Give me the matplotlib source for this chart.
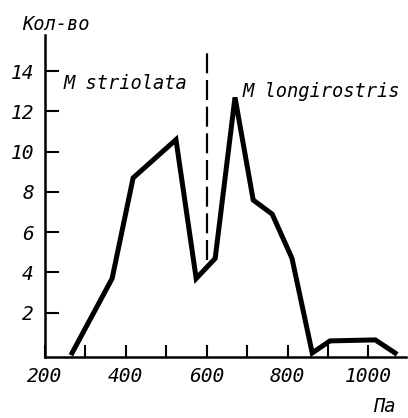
import matplotlib
matplotlib.use("Agg")
import matplotlib.pyplot as plt
from matplotlib.ticker import MultipleLocator

# Data
pa = [267, 366, 418, 524, 574, 621, 670, 715, 762, 811, 861, 905, 1017, 1066]
count = [0, 3.7, 8.7, 10.6, 3.7, 4.7, 12.7, 7.6, 6.9, 4.7, 0, 0.6, 0.65, 0]
divider_x = [600, 600]
divider_y = [4.6, 15.1]
x_ticks = [200, 400, 600, 800, 1000]
y_ticks = [2, 4, 6, 8, 10, 12, 14]

plt.rcParams['font.family'] = ['DejaVu Sans Mono', 'DejaVu Sans']
fig = plt.figure(figsize=(4.08, 4.18), dpi=100)
ax = fig.add_axes([45/408, (418-357)/418, (406-45)/408, (357-35)/418])

ax.plot(pa, count, color='black', lw=3.6, solid_joinstyle='miter', clip_on=False)
ax.plot(divider_x, divider_y, color='black', lw=1.6, dashes=(9, 3))

ax.set_xlim(200, 1093)
ax.set_ylim(-0.2, 15.8)
for s in ['top', 'right']:
    ax.spines[s].set_visible(False)
for s in ['left', 'bottom']:
    ax.spines[s].set_linewidth(1.8)

ax.set_xticks(x_ticks)
ax.xaxis.set_minor_locator(MultipleLocator(100))
ax.set_yticks(y_ticks)
ax.tick_params(axis='y', direction='in', length=10, width=1.5, pad=8, labelsize=14)
ax.tick_params(axis='x', which='both', direction='in', length=8.5, width=1.5, pad=7, labelsize=14)
for lab in ax.get_xticklabels() + ax.get_yticklabels():
    lab.set_fontstyle('italic')

ax.text(245, 13.4, 'M striolata', fontsize=13.5, fontstyle='italic', va='center', ha='left')
ax.text(688, 13.0, 'M longirostris', fontsize=13.5, fontstyle='italic', va='center', ha='left')
fig.text(22/408, 1-25/418, 'Кол-во', fontsize=13.5, fontstyle='italic', va='center', ha='left')
fig.text(384/408, 1-407/418, 'Па', fontsize=13.5, fontstyle='italic', va='center', ha='center')

fig.savefig('out.png', dpi=100)
